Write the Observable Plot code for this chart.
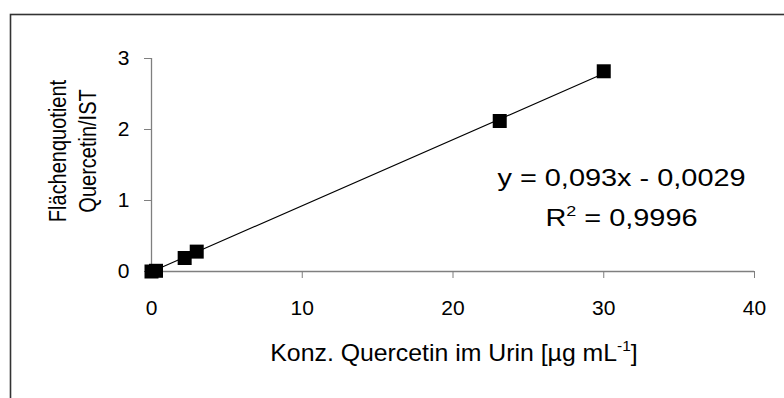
<!DOCTYPE html>
<html>
<head>
<meta charset="utf-8">
<script src="https://cdn.jsdelivr.net/npm/d3@7"></script>
<script src="https://cdn.jsdelivr.net/npm/@observablehq/plot@0.6"></script>
<style>
  html, body { margin: 0; padding: 0; background: #fff; }
</style>
</head>
<body>
<div id="chart"></div>
<script>
// Calibration points: quercetin concentration in urine vs. peak-area ratio (quercetin / internal standard)
const concentration = [0, 0.3, 2.2, 3.0, 23.1, 30.0];
const areaRatio = [0, 0.01, 0.19, 0.28, 2.12, 2.82];

// Linear fit reported for the calibration
const slope = 0.093;
const intercept = -0.0029;

const xTicks = [0, 10, 20, 30, 40];
const yTicks = [0, 1, 2, 3];

const xTitle = "Konz. Quercetin im Urin [µg mL^{-1}]";
const yTitleLines = ["Flächenquotient", "Quercetin/IST"];
const equationLines = ["y = 0,093x - 0,0029", "R^{2} = 0,9996"];

const points = concentration.map((c, i) => ({c, r: areaRatio[i]}));
const fit = [0, d3.max(concentration)].map(c => ({c, r: slope * c + intercept}));

const font = "'Liberation Sans', Arial, Helvetica, sans-serif";
const axisGray = "#7f7f7f";

const chart = Plot.plot({
  width: 784,
  height: 398,
  marginLeft: 151,
  marginRight: 30,
  marginTop: 58,
  marginBottom: 127,
  style: {fontFamily: font, background: "#fff", color: "#000", overflow: "visible"},
  x: {domain: [0, 40]},
  y: {domain: [0, 3]},
  marks: [
    // outer border of the figure
    Plot.frame({stroke: "#333", strokeWidth: 1.6, insetLeft: -141, insetTop: -44, insetRight: -60, insetBottom: -160}),
    // axis lines
    Plot.ruleY([0], {stroke: axisGray, strokeWidth: 1.3}),
    Plot.ruleX([0], {stroke: axisGray, strokeWidth: 1.3}),
    Plot.axisX(xTicks, {tickSize: 7, tickPadding: 22, stroke: axisGray, fill: "#000", fontSize: 21, label: null, tickFormat: d => String(d)}),
    Plot.axisY(yTicks, {tickSize: 7, tickPadding: 15, stroke: axisGray, fill: "#000", fontSize: 21, label: null, tickFormat: d => String(d)}),
    // fitted line
    Plot.line(fit, {x: "c", y: "r", stroke: "#000", strokeWidth: 1.1}),
    // calibration points
    Plot.dot(points, {x: "c", y: "r", symbol: "square", r: 7.9, fill: "#000", stroke: null}),
    // regression equation
    Plot.text([equationLines.join("\n")], {frameAnchor: "right", textAnchor: "middle", dx: -133, dy: 28, fontSize: 24.5, lineHeight: 1.66, fill: "#000"}),
    // axis titles
    Plot.text([xTitle], {frameAnchor: "bottom", textAnchor: "middle", dx: 1, dy: 89, fontSize: 23, fill: "#000"}),
    Plot.text([yTitleLines.join("\n")], {frameAnchor: "left", textAnchor: "middle", rotate: -90, dx: -80, dy: -14, fontSize: 20, lineHeight: 1.3, fill: "#000"})
  ]
});

document.getElementById("chart").appendChild(chart);

// Render "^{...}" segments as raised, smaller text
function applySuperscripts(root) {
  const ns = "http://www.w3.org/2000/svg";
  root.querySelectorAll("text, tspan").forEach(node => {
    if (node.children.length || !node.textContent.includes("^{")) return;
    const size = parseFloat(getComputedStyle(node).fontSize);
    const raw = node.textContent;
    node.textContent = "";
    let raised = false;
    for (const part of raw.split(/(\^\{[^}]*\})/)) {
      if (!part) continue;
      const t = document.createElementNS(ns, "tspan");
      const m = part.match(/^\^\{(.*)\}$/);
      if (m) {
        t.textContent = m[1];
        t.setAttribute("font-size", (size * 0.62).toFixed(1));
        t.setAttribute("dy", (-size * 0.42).toFixed(1));
        raised = true;
      } else {
        t.textContent = part;
        if (raised) { t.setAttribute("dy", (size * 0.42).toFixed(1)); raised = false; }
      }
      node.appendChild(t);
    }
  });
}
applySuperscripts(chart);

// The figure's lettering is set slightly wide: stretch the glyphs horizontally
// (on screen) around each text anchor
function widen(match, sx, sy = 1) {
  chart.querySelectorAll("text").forEach(el => {
    if (!match(el.textContent)) return;
    const t = el.getAttribute("transform") || "";
    el.setAttribute("transform", `${t} scale(${sx},${sy})`);
  });
}
widen(s => s.includes("0,093x"), 1.18);
widen(s => s.startsWith("Konz."), 1.08);
// rotated title: screen-horizontal is the local y direction
widen(s => s.startsWith("Flächen"), 1, 1.15);
</script>
</body>
</html>
